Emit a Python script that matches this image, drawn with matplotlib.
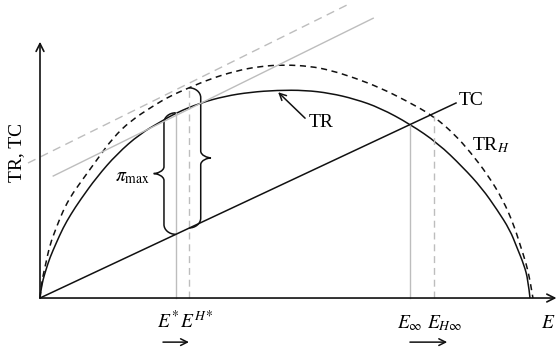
import matplotlib
matplotlib.use('Agg')
import matplotlib.pyplot as plt
from matplotlib.path import Path
from matplotlib.patches import PathPatch

plt.rcParams['font.family'] = ['Liberation Serif', 'DejaVu Serif']
plt.rcParams['mathtext.fontset'] = 'stix'

# effort E (0 .. open-access end point) and revenue / cost values
tr_e = [0, 0.2, 0.6, 1.2, 2.0, 3.3, 4.7, 6.3, 8.2, 11.6, 15.7, 20.4, 24.5, 27.8,
        32.7, 37.8, 42.9, 48.4, 54.1, 59.2, 64.3, 69.4, 75.5, 81.2, 86.3, 90.2,
        93.3, 95.9, 97.3, 98.8, 99.6, 100.0]
tr_v = [0, 1.6, 3.7, 5.7, 8.2, 11.2, 14.3, 17.1, 20.0, 24.7, 29.4, 33.5, 35.9, 37.8,
        39.8, 41.2, 42.0, 42.4, 42.4, 41.8, 40.6, 38.8, 35.5, 31.6, 26.7, 22.4,
        18.0, 13.9, 10.4, 6.7, 3.7, 0]

trh_e = [0, 0.2, 0.6, 1.2, 2.0, 3.3, 4.7, 6.3, 8.2, 11.6, 14.9, 18.4, 23.1, 26.5,
         30.4, 34.7, 39.8, 44.9, 50.0, 55.1, 59.2, 64.3, 69.4, 74.5, 80.4, 84.7,
         87.8, 91.4, 94.5, 96.7, 98.0, 99.2, 100.0, 100.6]
trh_v = [0, 2.0, 4.5, 7.1, 10.8, 14.3, 17.8, 20.8, 23.5, 28.2, 32.7, 36.1, 39.2, 41.2,
         42.9, 44.7, 46.3, 47.3, 47.6, 47.3, 46.5, 44.9, 42.9, 40.4, 37.1, 33.3,
         29.8, 25.1, 20.0, 14.9, 10.8, 7.1, 3.7, 0]

tc_e = [0, 84.9]
tc_v = [0, 39.8]

# tangent lines parallel to cost
tan_e = [2.7, 68.0]
tan_v = [24.9, 57.1]
tanh_e = [-2.45, 62.65]
tanh_v = [27.55, 59.8]

# E*, E^H*, E_inf, E_Hinf and curve heights there
e_star, tr_star, tc_star = 27.7, 37.8, 13.0
eh_star, trh_star, tch_star = 30.4, 42.9, 14.3
e_inf, tr_inf = 75.5, 35.5
eh_inf, trh_inf = 80.4, 37.1

black = '#111111'
grey = '#bdbdbd'
lw = 1.1


def smooth_curve(xs, ys):
    # quadratic b-spline through the sample points (samples act as control points)
    pts = list(zip(xs, ys))
    verts = [pts[0]]
    codes = [Path.MOVETO]
    mid0 = ((pts[0][0] + pts[1][0]) / 2, (pts[0][1] + pts[1][1]) / 2)
    verts.append(mid0)
    codes.append(Path.LINETO)
    for i in range(1, len(pts) - 1):
        nxt = ((pts[i][0] + pts[i + 1][0]) / 2, (pts[i][1] + pts[i + 1][1]) / 2)
        if i == len(pts) - 2:
            nxt = pts[-1]
        verts += [pts[i], nxt]
        codes += [Path.CURVE3, Path.CURVE3]
    return Path(verts, codes)


def brace(ax, x_end, y0, y1, side):
    # curly brace between (x_end, y0) and (x_end, y1); side=-1 points left
    w = 2.4 * side
    tip = 4.5 * side
    r = 2.0
    ym = (y0 + y1) / 2
    xs = x_end + w
    verts = [(x_end, y1),
             (x_end + w * 0.55, y1), (xs, y1 - r * 0.45), (xs, y1 - r),
             (xs, ym + 1.4),
             (xs, ym + 0.5), (x_end + tip * 0.85, ym), (x_end + tip, ym),
             (x_end + tip * 0.85, ym), (xs, ym - 0.5), (xs, ym - 1.4),
             (xs, y0 + r),
             (xs, y0 + r * 0.45), (x_end + w * 0.55, y0), (x_end, y0)]
    codes = [Path.MOVETO,
             Path.CURVE4, Path.CURVE4, Path.CURVE4,
             Path.LINETO,
             Path.CURVE4, Path.CURVE4, Path.CURVE4,
             Path.CURVE4, Path.CURVE4, Path.CURVE4,
             Path.LINETO,
             Path.CURVE4, Path.CURVE4, Path.CURVE4]
    ax.add_patch(PathPatch(Path(verts, codes), fill=False, ec=black, lw=lw))


fig = plt.figure(figsize=(5.57, 3.53), dpi=100)
ax = fig.add_axes([0, 0, 1, 1])
ax.set_xlim(-8.163, 105.51)
ax.set_ylim(-11.22, 60.82)
ax.axis('off')

# axes with open arrow heads
ax.annotate('', xy=(105.4, 0), xytext=(0, 0),
            arrowprops=dict(arrowstyle='->', lw=1.2, color=black, shrinkA=0, shrinkB=0,
                            mutation_scale=14))
ax.annotate('', xy=(0, 52.3), xytext=(0, 0),
            arrowprops=dict(arrowstyle='->', lw=1.2, color=black, shrinkA=0, shrinkB=0,
                            mutation_scale=14))

# tangents
ax.plot(tan_e, tan_v, color=grey, lw=1.0)
ax.plot(tanh_e, tanh_v, color=grey, lw=1.0, dashes=(6, 4))

# vertical guides
ax.plot([e_star, e_star], [0, tr_star], color=grey, lw=1.0)
ax.plot([eh_star, eh_star], [0, trh_star], color=grey, lw=1.0, dashes=(5, 3.5))
ax.plot([e_inf, e_inf], [0, tr_inf], color=grey, lw=1.0)
ax.plot([eh_inf, eh_inf], [0, trh_inf], color=grey, lw=1.0, dashes=(5, 3.5))

# revenue and cost
ax.add_patch(PathPatch(smooth_curve(tr_e, tr_v), fill=False, ec=black, lw=lw))
ax.add_patch(PathPatch(smooth_curve(trh_e, trh_v), fill=False, ec=black, lw=lw,
                       linestyle=(0, (4, 3))))
ax.plot(tc_e, tc_v, color=black, lw=lw)

# profit braces
brace(ax, e_star, tc_star, tr_star, -1)
brace(ax, eh_star, tch_star, trh_star, 1)

fs = 14
ax.text(-4.69, 29.8, 'TR, TC', rotation=90, ha='center', va='center', fontsize=fs)
ax.text(85.5, 39.4, 'TC', ha='left', va='baseline', fontsize=fs)
ax.text(88.2, 30.2, r'TR$_{H}$', ha='left', va='baseline', fontsize=fs)
ax.text(54.9, 34.9, 'TR', ha='left', va='baseline', fontsize=fs)
ax.annotate('', xy=(48.6, 42.0), xytext=(54.1, 36.7),
            arrowprops=dict(arrowstyle='->', lw=lw, color=black, shrinkA=0, shrinkB=0,
                            mutation_scale=12))
ax.text(22.4, 24.5, r'$\pi_{\mathrm{max}}$', ha='right', va='center', fontsize=fs)

ax.text(23.9, -6.1, r'$E^{*}$', ha='left', va='baseline', fontsize=fs)
ax.text(28.6, -6.1, r'$E^{H*}$', ha='left', va='baseline', fontsize=fs)
ax.text(72.9, -6.1, r'$E_{\infty}$', ha='left', va='baseline', fontsize=fs)
ax.text(79.0, -6.1, r'$E_{H\infty}$', ha='left', va='baseline', fontsize=fs)
ax.text(102.2, -6.1, r'$E$', ha='left', va='baseline', fontsize=fs)

ax.annotate('', xy=(30.4, -9.0), xytext=(25.1, -9.0),
            arrowprops=dict(arrowstyle='->', lw=lw, color=black, shrinkA=0, shrinkB=0,
                            mutation_scale=12))
ax.annotate('', xy=(83.1, -9.0), xytext=(75.5, -9.0),
            arrowprops=dict(arrowstyle='->', lw=lw, color=black, shrinkA=0, shrinkB=0,
                            mutation_scale=12))

fig.savefig('out.png', dpi=100)
